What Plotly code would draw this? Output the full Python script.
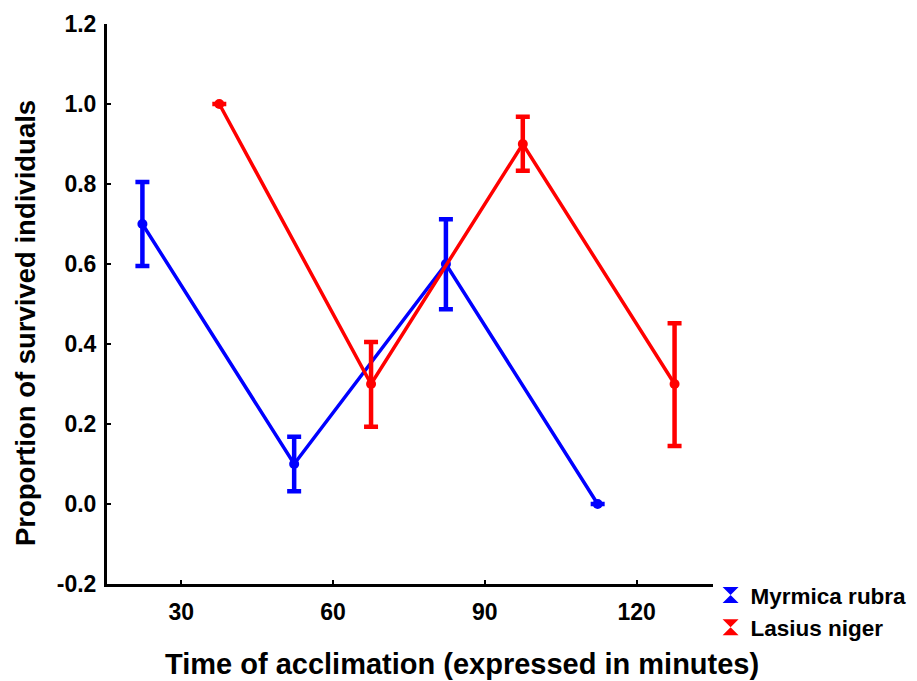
import plotly.graph_objects as go

# ---- data ----
times = [30, 60, 90, 120]
species = ["Myrmica rubra", "Lasius niger"]
myrmica_mean = [0.70, 0.10, 0.60, 0.00]
myrmica_upper = [0.805, 0.168, 0.712, 0.00]
myrmica_lower = [0.595, 0.032, 0.487, 0.00]
lasius_mean = [1.00, 0.30, 0.90, 0.30]
lasius_upper = [1.00, 0.405, 0.968, 0.452]
lasius_lower = [1.00, 0.193, 0.833, 0.145]
x_ticks = [30, 60, 90, 120]
y_ticks = [-0.2, 0.0, 0.2, 0.4, 0.6, 0.8, 1.0, 1.2]

colors = ["#0000FF", "#FF0000"]
offsets = [-7.7, 7.5]

fig = go.Figure()
series = [
    (myrmica_mean, myrmica_upper, myrmica_lower),
    (lasius_mean, lasius_upper, lasius_lower),
]
for i, (mean, up, lo) in enumerate(series):
    xs = [t + offsets[i] for t in times]
    fig.add_trace(go.Scatter(
        x=xs, y=mean, mode="lines+markers",
        line=dict(color=colors[i], width=3.5),
        marker=dict(color=colors[i], size=10),
        error_y=dict(type="data", symmetric=False,
                     array=[u - m for u, m in zip(up, mean)],
                     arrayminus=[m - l for m, l in zip(mean, lo)],
                     color=colors[i], thickness=4.5, width=7),
        showlegend=False, name=species[i],
    ))
    fig.add_trace(go.Scatter(
        x=[None], y=[None], mode="markers", name=species[i],
        marker=dict(color=colors[i], symbol="hourglass", size=16,
                    line=dict(width=0)),
    ))

tick_font = dict(family="Liberation Sans, Arial", size=23, color="black", weight="bold")

fig.update_layout(
    width=917, height=681,
    margin=dict(l=107, r=204, t=24, b=97, autoexpand=False),
    paper_bgcolor="white", plot_bgcolor="white",
    font=dict(family="Liberation Sans, Arial", color="black"),
    showlegend=True,
    legend=dict(x=0.996, xanchor="left", y=0.018, yanchor="top",
                font=dict(family="Liberation Sans, Arial", size=22.5, color="black", weight="bold"),
                bgcolor="rgba(0,0,0,0)", itemwidth=30, tracegroupgap=0),
    xaxis=dict(range=[15.3, 135.1], tickvals=x_ticks, ticktext=[str(v) for v in x_ticks],
               showgrid=False, zeroline=False, showline=True, linecolor="black", linewidth=3,
               ticks="inside", ticklen=4, tickwidth=2, tickcolor="black",
               tickfont=tick_font, ticklabelstandoff=5),
    yaxis=dict(range=[-0.2, 1.2], tickvals=y_ticks, ticktext=[f"{v:.1f}" for v in y_ticks],
               showgrid=False, zeroline=False, showline=True, linecolor="black", linewidth=3,
               ticks="inside", ticklen=4, tickwidth=2, tickcolor="black",
               tickfont=tick_font, ticklabelstandoff=3),
    annotations=[
        dict(text="Time of acclimation (expressed in minutes)", xref="paper", yref="paper",
             x=0.5858, y=-0.1420, xanchor="center", yanchor="middle", showarrow=False,
             font=dict(family="Liberation Sans, Arial", size=29, color="black", weight="bold")),
        dict(text="Proportion of survived individuals", xref="paper", yref="paper",
             x=-0.1353, y=0.466, xanchor="center", yanchor="middle", showarrow=False,
             textangle=-90,
             font=dict(family="Liberation Sans, Arial", size=27.5, color="black", weight="bold")),
    ],
)

fig.write_html("out.html")
